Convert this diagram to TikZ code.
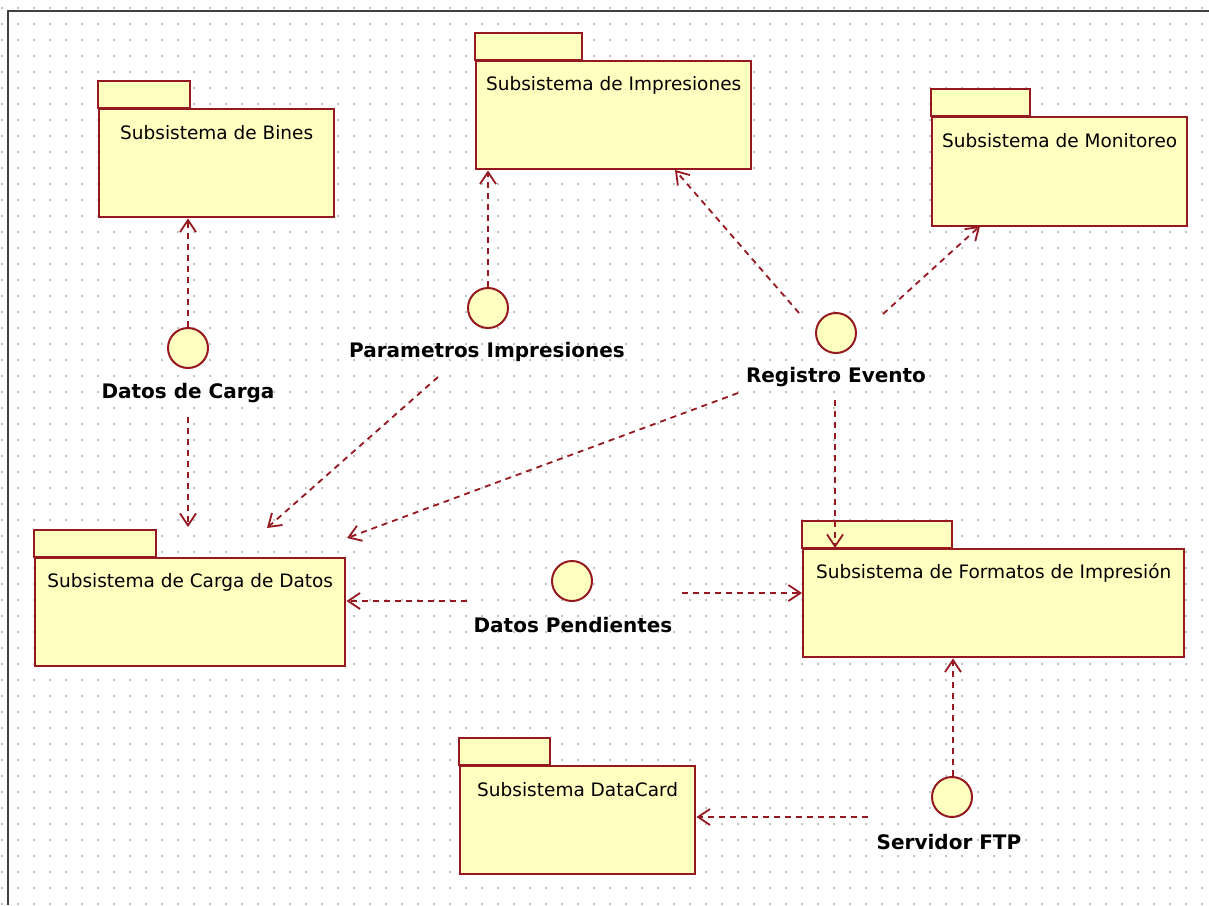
\documentclass[tikz,border=0pt]{standalone}
\usepackage{fontspec}
\setmainfont{DejaVu Sans}
\usetikzlibrary{arrows.meta}

\definecolor{pkgfill}{RGB}{255,255,192}
\definecolor{umlred}{RGB}{150,24,32}
\definecolor{gridgray}{RGB}{196,196,196}
\definecolor{framegray}{RGB}{64,64,64}

\tikzset{
  pkgtab/.style={draw=umlred, fill=pkgfill, line width=2.4pt},
  pkgbody/.style={draw=umlred, fill=pkgfill, line width=2.4pt, anchor=north west, inner sep=0pt},
  pkgname/.style={font=\fontsize{18.5}{22}\selectfont, inner sep=0pt},
  iface/.style={circle, draw=umlred, fill=pkgfill, line width=2pt, minimum size=40pt, inner sep=0pt},
  ifname/.style={font=\bfseries\fontsize{20}{24}\selectfont, inner sep=0pt},
  dep/.style={draw=umlred, line width=1.8pt, dash pattern=on 6pt off 5pt,
    -{Straight Barb[length=12pt,width=16pt]}},
}

% UML package: name, left, tab top, tab width, body width, body height, title
\newcommand\pkgbox[7]{%
  \draw[pkgtab] (#2,#3) rectangle ++(#4,27);
  \node[pkgbody, minimum width=#5pt, minimum height=#6pt] (#1) at (#2,#3+27) {};
  \node[pkgname] (#1-name) at ([yshift=-25pt]#1.north) {#7};
}

\begin{document}
\begin{tikzpicture}[x=1pt, y=-1pt]
  \useasboundingbox (0,0) rectangle (1209,905);
  \fill[white] (0,0) rectangle (1209,905);

  % dotted drawing grid
  \foreach \i in {0,...,75} {
    \foreach \j in {0,...,56} {
      \fill[gridgray] (1.1+16*\i, 7.1+16*\j) rectangle ++(1.8,1.8);
    }
  }

  % frame
  \draw[framegray, line width=2.4pt] (8,905) -- (8,11) -- (1209,11);

  % packages
  \pkgbox{bines}{98}{81}{92}{235}{108}{Subsistema de Bines}
  \pkgbox{impr}{475}{33}{107}{275}{108}{Subsistema de Impresiones}
  \pkgbox{moni}{931}{89}{99}{255}{109}{Subsistema de Monitoreo}
  \pkgbox{carga}{34}{530}{122}{310}{108}{Subsistema de Carga de Datos}
  \pkgbox{form}{802}{521}{150}{381}{108}{Subsistema de Formatos de Impresión}
  \pkgbox{dcard}{459}{738}{91}{235}{108}{Subsistema DataCard}

  % interfaces
  \node[iface] (dcarga) at (188,348) {};
  \node[ifname] (dcarga-name) at (188,393) {Datos de Carga};
  \node[iface] (pimp) at (488,308) {};
  \node[ifname] (pimp-name) at (487,352) {Parametros Impresiones};
  \node[iface] (reg) at (836,333) {};
  \node[ifname] (reg-name) at (836,377) {Registro Evento};
  \node[iface] (dpen) at (572,581) {};
  \node[ifname] (dpen-name) at (573,625) {Datos Pendientes};
  \node[iface] (ftp) at (952,797) {};
  \node[ifname] (ftp-name) at (949,842) {Servidor FTP};

  % connector ends
  \coordinate (dc-out) at (188,417);
  \coordinate (dc-in)  at (188,527);
  \coordinate (pi-out) at (438,377);
  \coordinate (pi-in)  at (267,528);
  \coordinate (rg-a)   at (799,313);
  \coordinate (rg-ai)  at (675,170);
  \coordinate (rg-b)   at (883,314);
  \coordinate (rg-bi)  at (980,226);
  \coordinate (rg-c)   at (738,393);
  \coordinate (rg-ci)  at (347,538);
  \coordinate (rg-d)   at (835,400);
  \coordinate (dp-l)   at (467,601);
  \coordinate (dp-r)   at (682,593);
  \coordinate (ftp-l)  at (868,817);

  % dependencies
  \draw[dep] (dcarga.north) -- (dcarga.north |- bines.south);
  \draw[dep] (dc-out) -- (dc-in);
  \draw[dep] (pimp.north) -- (pimp.north |- impr.south);
  \draw[dep] (pi-out) -- (pi-in);
  \draw[dep] (rg-a) -- (rg-ai);
  \draw[dep] (rg-b) -- (rg-bi);
  \draw[dep] (rg-c) -- (rg-ci);
  \draw[dep] (rg-d) -- (rg-d |- form.north);
  \draw[dep] (dp-l) -- (dp-l -| carga.east);
  \draw[dep] (dp-r) -- (dp-r -| form.west);
  \draw[dep] ([xshift=1pt]ftp.north) -- ([xshift=1pt]ftp.north |- form.south);
  \draw[dep] (ftp-l) -- (ftp-l -| dcard.east);
\end{tikzpicture}
\end{document}
